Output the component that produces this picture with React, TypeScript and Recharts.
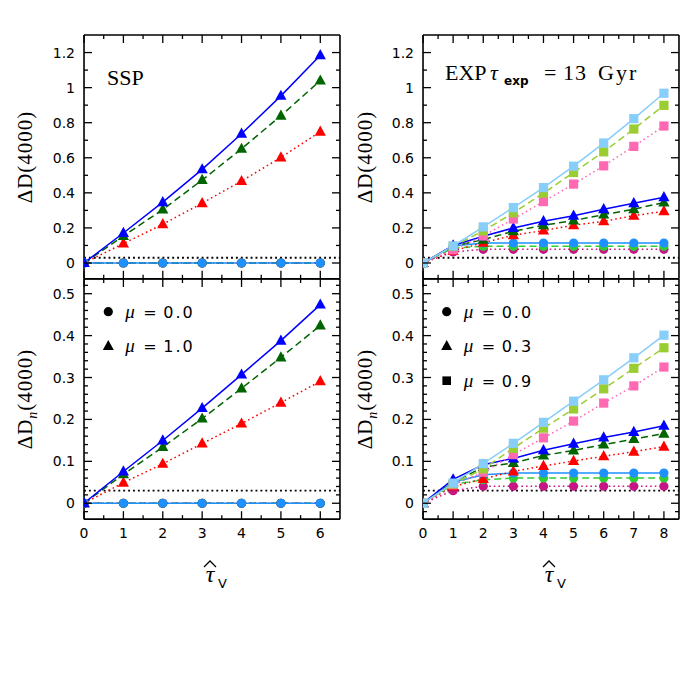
import React from "react";
import { LineChart, Line, XAxis, YAxis, ReferenceLine } from "recharts";

// optical depth grids
const sspTau = [0, 1, 2, 3, 4, 5, 6];
const expTau = [0, 1, 2, 3, 4, 5, 6, 7, 8];

// SSP, Delta D(4000)
const sspD_mu0 = [0, 0, 0, 0, 0, 0, 0];
const sspD_blue = [0, 0.171, 0.347, 0.534, 0.737, 0.953, 1.185];
const sspD_green = [0, 0.154, 0.305, 0.473, 0.651, 0.84, 1.04];
const sspD_red = [0, 0.111, 0.221, 0.341, 0.467, 0.602, 0.749];

// SSP, Delta Dn(4000)
const sspDn_mu0 = [0, 0, 0, 0, 0, 0, 0];
const sspDn_blue = [0, 0.0757, 0.1497, 0.227, 0.307, 0.388, 0.474];
const sspDn_green = [0, 0.069, 0.134, 0.202, 0.274, 0.348, 0.424];
const sspDn_red = [0, 0.049, 0.094, 0.1425, 0.19, 0.24, 0.291];

// EXP, Delta D(4000)
const expD_sqSky = [0, 0.097, 0.206, 0.316, 0.43, 0.552, 0.684, 0.823, 0.968];
const expD_sqYG = [0, 0.095, 0.183, 0.286, 0.398, 0.516, 0.634, 0.764, 0.899];
const expD_sqPink = [0, 0.075, 0.154, 0.251, 0.35, 0.45, 0.554, 0.665, 0.781];
const expD_triBlue = [0, 0.1, 0.152, 0.2, 0.238, 0.27, 0.307, 0.341, 0.375];
const expD_triGreen = [0, 0.095, 0.133, 0.181, 0.215, 0.242, 0.276, 0.307, 0.345];
const expD_triRed = [0, 0.069, 0.116, 0.158, 0.185, 0.215, 0.238, 0.27, 0.295];
const expD_cirBlue = [0, 0.097, 0.114, 0.114, 0.114, 0.114, 0.114, 0.114, 0.114];
const expD_cirGreen = [0, 0.085, 0.095, 0.095, 0.095, 0.095, 0.095, 0.095, 0.095];
const expD_cirMag = [0, 0.063, 0.078, 0.078, 0.078, 0.078, 0.078, 0.078, 0.078];

// EXP, Delta Dn(4000)
const expDn_sqSky = [0, 0.048, 0.0947, 0.143, 0.193, 0.2435, 0.2945, 0.347, 0.401];
const expDn_sqYG = [0, 0.046, 0.082, 0.131, 0.179, 0.225, 0.273, 0.322, 0.371];
const expDn_sqPink = [0, 0.044, 0.074, 0.116, 0.156, 0.196, 0.239, 0.28, 0.325];
const expDn_triBlue = [0, 0.057, 0.092, 0.107, 0.1265, 0.142, 0.157, 0.17, 0.185];
const expDn_triGreen = [0, 0.05, 0.086, 0.096, 0.114, 0.126, 0.14, 0.153, 0.166];
const expDn_triRed = [0, 0.04, 0.058, 0.076, 0.089, 0.101, 0.112, 0.123, 0.135];
const expDn_cirBlue = [0, 0.05, 0.068, 0.072, 0.072, 0.072, 0.072, 0.072, 0.072];
const expDn_cirGreen = [0, 0.045, 0.056, 0.06, 0.0605, 0.0605, 0.0605, 0.0605, 0.0605];
const expDn_cirMag = [0, 0.03, 0.0406, 0.0406, 0.0406, 0.0406, 0.0406, 0.0406, 0.0406];

// ticks
const sspXMajor = [0, 1, 2, 3, 4, 5, 6];
const sspXMinor = [0.5, 1.5, 2.5, 3.5, 4.5, 5.5];
const expXMajor = [0, 1, 2, 3, 4, 5, 6, 7, 8];
const expXMinor = [0.5, 1.5, 2.5, 3.5, 4.5, 5.5, 6.5, 7.5];
const dYMajor = [0, 0.2, 0.4, 0.6, 0.8, 1, 1.2];
const dYMinor = [0.1, 0.3, 0.5, 0.7, 0.9, 1.1];
const dnYMajor = [0, 0.1, 0.2, 0.3, 0.4, 0.5];
const dnYMinor = [-0.02, 0.02, 0.04, 0.06, 0.08, 0.12, 0.14, 0.16, 0.18, 0.22, 0.24, 0.26, 0.28, 0.32, 0.34, 0.36, 0.38, 0.42, 0.44, 0.46, 0.48, 0.52];

const refLevel = 0.03;

const cDodger = "#1e90ff";
const cSky = "#87cefa";
const cBlue = "#0000ff";
const cDkGreen = "#006400";
const cRed = "#ff0000";
const cYG = "#9acd32";
const cPink = "#ff69b4";
const cLime = "#32cd32";
const cMag = "#c71585";

const DASH = "7 4";
const DOT = "1.6 3";

type Shape = "circle" | "triangle" | "square";
type Series = { key: string; values: number[]; color: string; dash?: string; shape: Shape };

const sspDSeries: Series[] = [
  { key: "r0", values: sspD_mu0, color: cRed, dash: DOT, shape: "circle" },
  { key: "g0", values: sspD_mu0, color: cDkGreen, dash: DASH, shape: "circle" },
  { key: "b0", values: sspD_mu0, color: cDodger, shape: "circle" },
  { key: "r1", values: sspD_red, color: cRed, dash: DOT, shape: "triangle" },
  { key: "g1", values: sspD_green, color: cDkGreen, dash: DASH, shape: "triangle" },
  { key: "b1", values: sspD_blue, color: cBlue, shape: "triangle" },
];
const sspDnSeries: Series[] = [
  { key: "r0", values: sspDn_mu0, color: cRed, dash: DOT, shape: "circle" },
  { key: "g0", values: sspDn_mu0, color: cDkGreen, dash: DASH, shape: "circle" },
  { key: "b0", values: sspDn_mu0, color: cDodger, shape: "circle" },
  { key: "r1", values: sspDn_red, color: cRed, dash: DOT, shape: "triangle" },
  { key: "g1", values: sspDn_green, color: cDkGreen, dash: DASH, shape: "triangle" },
  { key: "b1", values: sspDn_blue, color: cBlue, shape: "triangle" },
];
const expDSeries: Series[] = [
  { key: "cm", values: expD_cirMag, color: cMag, dash: DOT, shape: "circle" },
  { key: "cg", values: expD_cirGreen, color: cLime, dash: DASH, shape: "circle" },
  { key: "cb", values: expD_cirBlue, color: cDodger, shape: "circle" },
  { key: "tr", values: expD_triRed, color: cRed, dash: DOT, shape: "triangle" },
  { key: "tg", values: expD_triGreen, color: cDkGreen, dash: DASH, shape: "triangle" },
  { key: "tb", values: expD_triBlue, color: cBlue, shape: "triangle" },
  { key: "sp", values: expD_sqPink, color: cPink, dash: DOT, shape: "square" },
  { key: "sy", values: expD_sqYG, color: cYG, dash: DASH, shape: "square" },
  { key: "ss", values: expD_sqSky, color: cSky, shape: "square" },
];
const expDnSeries: Series[] = [
  { key: "cm", values: expDn_cirMag, color: cMag, dash: DOT, shape: "circle" },
  { key: "cg", values: expDn_cirGreen, color: cLime, dash: DASH, shape: "circle" },
  { key: "cb", values: expDn_cirBlue, color: cDodger, shape: "circle" },
  { key: "tr", values: expDn_triRed, color: cRed, dash: DOT, shape: "triangle" },
  { key: "tg", values: expDn_triGreen, color: cDkGreen, dash: DASH, shape: "triangle" },
  { key: "tb", values: expDn_triBlue, color: cBlue, shape: "triangle" },
  { key: "sp", values: expDn_sqPink, color: cPink, dash: DOT, shape: "square" },
  { key: "sy", values: expDn_sqYG, color: cYG, dash: DASH, shape: "square" },
  { key: "ss", values: expDn_sqSky, color: cSky, shape: "square" },
];

const TICKFONT = "'DejaVu Sans', sans-serif";
const SERIF = "'Liberation Serif', 'Times New Roman', serif";
const axisStyle = { stroke: "#000", strokeWidth: 1.6 };
const THIN = 0.01; // axes of (almost) zero size so they don't eat plot space

function marker(shape: Shape, color: string, id: string) {
  return (p: any) => {
    const { cx, cy, index } = p;
    const k = `${id}-${index}`;
    if (cx == null || cy == null) return <g key={k} />;
    if (shape === "circle") return <circle key={k} cx={cx} cy={cy} r={4.6} fill={color} />;
    if (shape === "square")
      return <rect key={k} x={cx - 4.6} y={cy - 4.6} width={9.2} height={9.2} fill={color} />;
    return (
      <polygon key={k} points={`${cx},${cy - 6.2} ${cx - 5.6},${cy + 4} ${cx + 5.6},${cy + 4}`} fill={color} />
    );
  };
}

function tickMark(side: "bottom" | "top" | "left" | "right", len: number, labels: boolean) {
  return (p: any) => {
    const { x, y, payload, index } = p;
    const v = payload.value;
    let line;
    if (side === "bottom") line = <line x1={x} y1={y} x2={x} y2={y - len} />;
    else if (side === "top") line = <line x1={x} y1={y} x2={x} y2={y + len} />;
    else if (side === "left") line = <line x1={x} y1={y} x2={x + len} y2={y} />;
    else line = <line x1={x} y1={y} x2={x - len} y2={y} />;
    return (
      <g key={`${side}-${index}-${v}`}>
        <g stroke="#000" strokeWidth={1.3}>{line}</g>
        {labels && side === "bottom" && (
          <text x={x} y={y + 19} textAnchor="middle" fontFamily={TICKFONT} fontSize={14} fill="#000">
            {String(v)}
          </text>
        )}
        {labels && side === "left" && (
          <text x={x - 9} y={y + 5} textAnchor="end" fontFamily={TICKFONT} fontSize={14} fill="#000">
            {String(v)}
          </text>
        )}
      </g>
    );
  };
}

type PanelProps = {
  px: number;
  py: number;
  pw: number;
  ph: number;
  xDomain: [number, number];
  yDomain: [number, number];
  xMajor: number[];
  xMinor: number[];
  yMajor: number[];
  yMinor: number[];
  xLabels: boolean;
  tau: number[];
  series: Series[];
};

function Panel({ px, py, pw, ph, xDomain, yDomain, xMajor, xMinor, yMajor, yMinor, xLabels, tau, series }: PanelProps) {
  const m = { top: 20, right: 20, bottom: 40, left: 70 };
  const data = tau.map((t, i) => {
    const row: any = { t };
    series.forEach((s) => (row[s.key] = s.values[i]));
    return row;
  });
  const common = {
    type: "number" as const,
    tickSize: 0,
    tickMargin: 0,
    tickLine: false,
    interval: 0 as const,
    allowDataOverflow: true,
  };
  return (
    <div style={{ position: "absolute", left: px - m.left, top: py - m.top }}>
      <LineChart width={pw + m.left + m.right} height={ph + m.top + m.bottom} data={data} margin={m}>
        <XAxis xAxisId="x" dataKey="t" domain={xDomain} ticks={xMajor} height={THIN} axisLine={axisStyle} tick={tickMark("bottom", 8, xLabels)} {...common} />
        <XAxis xAxisId="xm" dataKey="t" domain={xDomain} ticks={xMinor} height={THIN} axisLine={false} tick={tickMark("bottom", 4, false)} {...common} />
        <XAxis xAxisId="xt" orientation="top" dataKey="t" domain={xDomain} ticks={xMajor} height={THIN} axisLine={axisStyle} tick={tickMark("top", 8, false)} {...common} />
        <XAxis xAxisId="xtm" orientation="top" dataKey="t" domain={xDomain} ticks={xMinor} height={THIN} axisLine={false} tick={tickMark("top", 4, false)} {...common} />
        <YAxis yAxisId="y" domain={yDomain} ticks={yMajor} width={THIN} axisLine={axisStyle} tick={tickMark("left", 8, true)} {...common} />
        <YAxis yAxisId="ym" domain={yDomain} ticks={yMinor} width={THIN} axisLine={false} tick={tickMark("left", 4, false)} {...common} />
        <YAxis yAxisId="yr" orientation="right" domain={yDomain} ticks={yMajor} width={THIN} axisLine={axisStyle} tick={tickMark("right", 8, false)} {...common} />
        <YAxis yAxisId="yrm" orientation="right" domain={yDomain} ticks={yMinor} width={THIN} axisLine={false} tick={tickMark("right", 4, false)} {...common} />
        <ReferenceLine xAxisId="x" yAxisId="y" y={refLevel} stroke="#000" strokeWidth={1.9} strokeDasharray="1.9 3" />
        {series.map((s) => (
          <Line
            key={s.key}
            xAxisId="x"
            yAxisId="y"
            type="linear"
            dataKey={s.key}
            stroke={s.color}
            strokeWidth={1.5}
            strokeDasharray={s.dash}
            dot={marker(s.shape, s.color, s.key)}
            activeDot={false}
            isAnimationActive={false}
          />
        ))}
      </LineChart>
    </div>
  );
}

const LX = 84;
const RX = 423.3;
const PW = 256;
const TY = 34.7;
const MY = 278.5;
const BY = 518.7;

function YLabel({ x, y, sub }: { x: number; y: number; sub: boolean }) {
  return (
    <text x={x} y={y} transform={`rotate(-90 ${x} ${y})`} textAnchor="middle" fontFamily={SERIF} fontSize={21} letterSpacing={1} fill="#000">
      ΔD
      {sub && (
        <tspan fontStyle="italic" fontSize={14} dy={5}>
          n
        </tspan>
      )}
      <tspan dy={sub ? -5 : 0}>(4000)</tspan>
    </text>
  );
}

function XLabel({ cx }: { cx: number }) {
  return (
    <g>
      <text x={cx - 2} y={582} textAnchor="middle" fontFamily={SERIF} fontStyle="italic" fontSize={24} fill="#000">
        τ
      </text>
      <polyline points={`${cx - 8},${567} ${cx - 2},${561} ${cx + 4},${567}`} fill="none" stroke="#000" strokeWidth={1.3} />
      <text x={cx + 6} y={588} fontFamily={TICKFONT} fontSize={13} fill="#000">
        V
      </text>
    </g>
  );
}

function LegendRow({ x, y, shape, label }: { x: number; y: number; shape: Shape; label: string }) {
  let mk;
  if (shape === "circle") mk = <circle cx={x} cy={y} r={4.6} fill="#000" />;
  else if (shape === "square") mk = <rect x={x - 4.3} y={y - 4.3} width={8.6} height={8.6} fill="#000" />;
  else mk = <polygon points={`${x},${y - 6} ${x - 5.5},${y + 4} ${x + 5.5},${y + 4}`} fill="#000" />;
  return (
    <g>
      {mk}
      <text x={x + 17} y={y + 6} fontFamily={SERIF} fontStyle="italic" fontSize={19} fill="#000">
        μ
      </text>
      <text x={x + 35} y={y + 6} fontFamily={TICKFONT} fontSize={16} fill="#000">
        =
      </text>
      <text x={x + 55} y={y + 6} fontFamily={TICKFONT} fontSize={16} letterSpacing={2} fill="#000">
        {label}
      </text>
    </g>
  );
}

export default function App() {
  return (
    <div style={{ position: "absolute", left: 0, top: 0, width: 692, height: 692, background: "#fff" }}>
      <Panel px={LX} py={TY} pw={PW} ph={MY - TY} xDomain={[0, 6.5]} yDomain={[-0.09, 1.3]} xMajor={sspXMajor} xMinor={sspXMinor} yMajor={dYMajor} yMinor={dYMinor} xLabels={false} tau={sspTau} series={sspDSeries} />
      <Panel px={LX} py={MY} pw={PW} ph={BY - MY} xDomain={[0, 6.5]} yDomain={[-0.038, 0.535]} xMajor={sspXMajor} xMinor={sspXMinor} yMajor={dnYMajor} yMinor={dnYMinor} xLabels={true} tau={sspTau} series={sspDnSeries} />
      <Panel px={RX} py={TY} pw={PW} ph={MY - TY} xDomain={[0, 8.5]} yDomain={[-0.09, 1.3]} xMajor={expXMajor} xMinor={expXMinor} yMajor={dYMajor} yMinor={dYMinor} xLabels={false} tau={expTau} series={expDSeries} />
      <Panel px={RX} py={MY} pw={PW} ph={BY - MY} xDomain={[0, 8.5]} yDomain={[-0.038, 0.535]} xMajor={expXMajor} xMinor={expXMinor} yMajor={dnYMajor} yMinor={dnYMinor} xLabels={true} tau={expTau} series={expDnSeries} />
      <svg width={692} height={692} style={{ position: "absolute", left: 0, top: 0, pointerEvents: "none" }}>
        <YLabel x={32} y={157} sub={false} />
        <YLabel x={32} y={399} sub={true} />
        <YLabel x={372} y={157} sub={false} />
        <YLabel x={372} y={399} sub={true} />
        <text x={107} y={85} fontFamily={SERIF} fontSize={22} fill="#000">
          SSP
        </text>
        <g fontFamily={SERIF} fontSize={22} fill="#000">
          <text x={445} y={80}>EXP</text>
          <text x={490} y={80} fontStyle="italic">τ</text>
          <text x={504} y={85} fontFamily={TICKFONT} fontWeight="bold" fontSize={12}>exp</text>
          <text x={544} y={80}>=</text>
          <text x={563} y={80} letterSpacing={1}>13</text>
          <text x={598} y={80} letterSpacing={2}>Gyr</text>
        </g>
        <LegendRow x={108.3} y={311.7} shape="circle" label="0.0" />
        <LegendRow x={108.3} y={346} shape="triangle" label="1.0" />
        <LegendRow x={446.7} y={311.7} shape="circle" label="0.0" />
        <LegendRow x={446.7} y={346} shape="triangle" label="0.3" />
        <LegendRow x={446.7} y={380.7} shape="square" label="0.9" />
        <XLabel cx={212} />
        <XLabel cx={551} />
      </svg>
    </div>
  );
}
